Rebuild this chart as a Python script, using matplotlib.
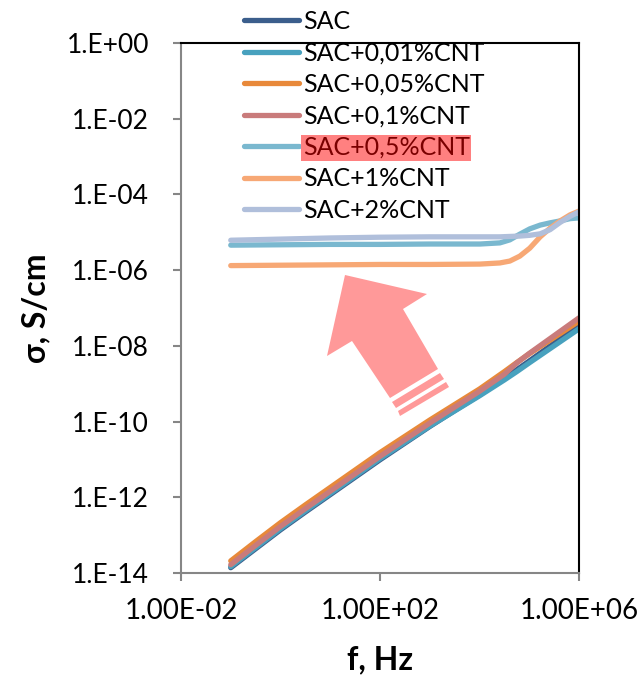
import matplotlib
matplotlib.use("Agg")
import matplotlib.pyplot as plt
import numpy as np
from matplotlib.patches import Polygon
from matplotlib.ticker import FixedLocator, FixedFormatter

plt.rcParams['font.family'] = ['Lato', 'DejaVu Sans']

# log10 of frequency (Hz) at which the curves were read
logf_low = [-1, -0.5, 0, 0.5, 1, 1.5, 2, 2.5, 3, 3.5, 4, 4.5, 4.75, 5, 5.5, 6]
# log10 of conductivity (S/cm), lower group
sac      = [-13.86, -13.36, -12.86, -12.39, -11.93, -11.47, -11.01, -10.57, -10.13, -9.71, -9.30, -8.86, -8.63, -8.40, -7.93, -7.45]
sac_001  = [-13.83, -13.33, -12.83, -12.36, -11.90, -11.44, -10.98, -10.55, -10.12, -9.72, -9.32, -8.90, -8.68, -8.45, -8.00, -7.55]
sac_005  = [-13.68, -13.17, -12.67, -12.20, -11.74, -11.28, -10.82, -10.39, -9.96, -9.55, -9.14, -8.68, -8.44, -8.21, -7.78, -7.35]
sac_01   = [-13.78, -13.27, -12.77, -12.30, -11.84, -11.38, -10.92, -10.48, -10.04, -9.62, -9.20, -8.75, -8.45, -8.20, -7.73, -7.26]

# upper group
logf_hi = [-1, 0, 1, 2, 3, 4.01, 4.41, 4.61, 4.81, 5.01, 5.22, 5.42, 5.62, 5.82, 6]
sac_05  = [-5.34, -5.33, -5.32, -5.32, -5.31, -5.31, -5.28, -5.20, -5.05, -4.91, -4.81, -4.75, -4.70, -4.64, -4.62]
sac_1   = [-5.88, -5.87, -5.86, -5.85, -5.85, -5.84, -5.81, -5.76, -5.63, -5.42, -5.12, -4.89, -4.70, -4.54, -4.44]
sac_2   = [-5.21, -5.18, -5.15, -5.13, -5.12, -5.12, -5.12, -5.11, -5.10, -5.08, -5.04, -4.93, -4.74, -4.58, -4.46]

labels = ['SAC', 'SAC+0,01%CNT', 'SAC+0,05%CNT', 'SAC+0,1%CNT',
          'SAC+0,5%CNT', 'SAC+1%CNT', 'SAC+2%CNT']
colors = ['#3b5e8c', '#48a1be', '#e8893a', '#c97b7b', '#7ab8cf', '#f7a875', '#b0bfdb']

series = [(logf_low, sac), (logf_low, sac_001), (logf_low, sac_005), (logf_low, sac_01),
          (logf_hi, sac_05), (logf_hi, sac_1), (logf_hi, sac_2)]

fig = plt.figure(figsize=(6.38, 6.78), dpi=100)
ax = fig.add_axes([181/638, 1 - 573/678, 398/638, 530/678])

for (lx, ly), lab, c in zip(series, labels, colors):
    ax.plot(10.0 ** np.array(lx), 10.0 ** np.array(ly), color=c, lw=3.8,
            label=lab, solid_capstyle='round', solid_joinstyle='round')

ax.set_xscale('log')
ax.set_yscale('log')
ax.set_xlim(1e-2, 1e6)
ax.set_ylim(1e-14, 1e0)

yt = [10.0 ** e for e in range(-14, 1, 2)]
ax.yaxis.set_major_locator(FixedLocator(yt))
ax.yaxis.set_major_formatter(FixedFormatter([f"1.E{e:+03d}" for e in range(-14, 1, 2)]))
ax.yaxis.set_minor_locator(FixedLocator([]))
xt = [1e-2, 1e2, 1e6]
ax.xaxis.set_major_locator(FixedLocator(xt))
ax.xaxis.set_major_formatter(FixedFormatter(['1.00E-02', '1.00E+02', '1.00E+06']))
ax.xaxis.set_minor_locator(FixedLocator([]))

ax.tick_params(axis='both', which='major', direction='out', length=6, width=1.5,
               color='#868686')
ax.tick_params(axis='y', pad=17, labelsize=19)
ax.tick_params(axis='x', pad=12, labelsize=20)
for s in ['left', 'bottom']:
    ax.spines[s].set_color('#868686')
    ax.spines[s].set_linewidth(1.5)
for s in ['top', 'right']:
    ax.spines[s].set_color('black')
    ax.spines[s].set_linewidth(1.5)

ax.set_xlabel('f, Hz', fontsize=23, fontweight='bold', labelpad=15)
ax.set_ylabel('σ, S/cm', fontsize=23, fontweight='bold', labelpad=12)

# big pink arrow pointing from the lower group to the upper group
def px(x, y):
    return ((x - 181) / 398, (573 - y) / 530)

arrow = [px(345, 275), px(427, 294), px(403, 309), px(438, 369),
         px(390, 398), px(352, 341), px(327, 356)]
stripe1 = [px(392, 402), px(440, 373), px(444, 379), px(396, 408)]
stripe2 = [px(398, 411), px(446, 382), px(449, 387), px(400, 416)]
for poly in (arrow, stripe1, stripe2):
    ax.add_patch(Polygon(poly, closed=True, transform=ax.transAxes,
                         facecolor='#ff9999', edgecolor='none', zorder=1))

leg = ax.legend(loc='upper left', bbox_to_anchor=(244/638, 1 - 10/678),
                bbox_transform=fig.transFigure, frameon=False, fontsize=18,
                handlelength=2.2, handletextpad=0.15, labelspacing=0.34,
                borderpad=0, borderaxespad=0)
for h in leg.get_lines():
    h.set_linewidth(3.8)
t = leg.get_texts()[4]
t.set_color('#7a0000')
t.set_bbox(dict(facecolor='#ff8080', edgecolor='none', pad=1))

fig.savefig('out.png', dpi=100)
